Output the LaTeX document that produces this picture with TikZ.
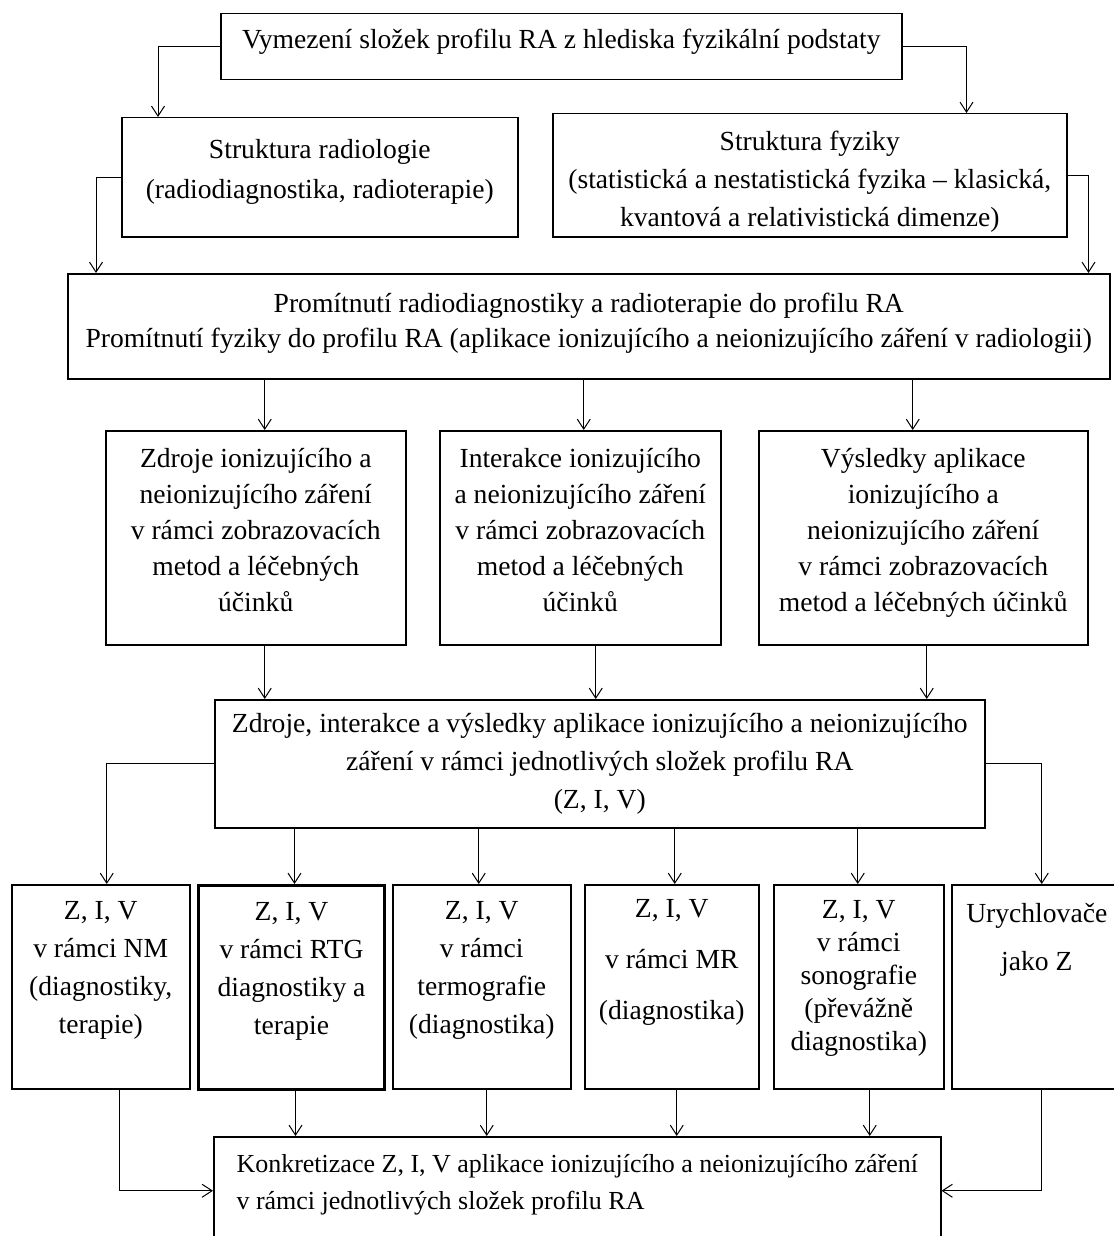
\documentclass[tikz,border=0pt]{standalone}
\usepackage{fontspec}
\setmainfont{Liberation Serif}
\usetikzlibrary{arrows.meta}

% extra depth below the last line, pushes the text up in its box
\newcommand{\padb}[1]{\rule[-#1]{0pt}{#1}}

\begin{document}
\begin{tikzpicture}[
  x=0.5pt, y=-0.5pt,
  block/.style={draw, line width=0.75pt, anchor=north west, align=center,
    inner sep=2pt, font=\fontsize{13.8}{19}\selectfont},
  bold block/.style={block, line width=1.5pt},
  leading/.style={font=\fontsize{13.8}{#1}\selectfont},
  link/.style={line width=0.5pt, -{Straight Barb[length=5pt,width=6.5pt]}}
]
  \useasboundingbox (0,0) rectangle (1113,1236);

  % Top: delimitation of the RA profile
  \node[block, minimum width=340.5pt, minimum height=33pt] (vymezeni) at (220,13)
    {Vymezení složek profilu RA z hlediska fyzikální podstaty\padb{8pt}};

  % Two structures
  \node[block, leading=20pt, minimum width=198pt, minimum height=59.5pt] (radiologie) at (121,117)
    {Struktura radiologie\\(radiodiagnostika, radioterapie)\padb{8.5pt}};
  \node[block, minimum width=257pt, minimum height=61.5pt] (fyzika) at (552,113)
    {\rule{0pt}{16pt}Struktura fyziky\\(statistická a nestatistická fyzika – klasická,\\kvantová a relativistická dimenze)};

  % Projection into the profile
  \node[block, leading=17.5pt, minimum width=521pt, minimum height=52.5pt] (promitnuti) at (67,273)
    {Promítnutí radiodiagnostiky a radioterapie do profilu RA\\Promítnutí fyziky do profilu RA (aplikace ionizujícího a neionizujícího záření v radiologii)\padb{6pt}};

  % Sources, interactions, results
  \node[block, leading=18pt, minimum width=150pt, minimum height=107pt] (zdroje) at (105,430)
    {Zdroje ionizujícího a\\neionizujícího záření\\v rámci zobrazovacích\\metod a léčebných\\účinků\padb{7.5pt}};
  \node[block, leading=18pt, minimum width=140.5pt, minimum height=107pt] (interakce) at (439,430)
    {Interakce ionizujícího\\a neionizujícího záření\\v rámci zobrazovacích\\metod a léčebných\\účinků\padb{7.5pt}};
  \node[block, leading=18pt, minimum width=164.5pt, minimum height=107pt] (vysledky) at (758,430)
    {Výsledky aplikace\\ionizujícího a\\neionizujícího záření\\v rámci zobrazovacích\\metod a léčebných účinků\padb{7.5pt}};

  % Z, I, V summary
  \node[block, minimum width=385pt, minimum height=64pt] (zik) at (214,699)
    {Zdroje, interakce a výsledky aplikace ionizujícího a neionizujícího\\záření v rámci jednotlivých složek profilu RA\\(Z, I, V)};

  % Row of the single components
  \node[block, minimum width=89pt, minimum height=102pt] (nm) at (11,884)
    {Z, I, V\\v rámci NM\\(diagnostiky,\\terapie)\padb{19.5pt}};
  \node[bold block, minimum width=93pt, minimum height=102pt] (rtg) at (197,884)
    {Z, I, V\\v rámci RTG\\diagnostiky a\\terapie\padb{19.5pt}};
  \node[block, minimum width=89pt, minimum height=102pt] (termo) at (392,884)
    {Z, I, V\\v rámci\\termografie\\(diagnostika)\padb{19.5pt}};
  \node[block, leading=25.5pt, minimum width=87pt, minimum height=102pt] (mr) at (584,884)
    {Z, I, V\\v rámci MR\\(diagnostika)\padb{27pt}};
  \node[block, leading=16.5pt, minimum width=85pt, minimum height=102pt] (sono) at (773,884)
    {Z, I, V\\v rámci\\sonografie\\(převážně\\diagnostika)\padb{11pt}};
  \node[block, leading=24pt, minimum width=85pt, minimum height=102pt] (urychl) at (951,884)
    {Urychlovače\\jako Z\padb{50pt}};

  % Bottom: concretisation (runs off the lower edge)
  \node[block, align=left, font=\fontsize{13}{18.5}\selectfont, minimum width=363.5pt, minimum height=54pt] (konkretizace) at (213,1136)
    {Konkretizace Z, I, V aplikace ionizujícího a neionizujícího záření\\v rámci jednotlivých složek profilu RA\padb{8.5pt}};

  % Connectors, top part
  \draw[link] (vymezeni.west) -| ([xshift=18.5pt]radiologie.north west);
  \draw[link] (vymezeni.east) -| ([xshift=-50.5pt]fyzika.north east);
  \draw[link] (radiologie.west) -| ([xshift=14.5pt]promitnuti.north west);
  \draw[link] (fyzika.east) -| ([xshift=-11pt]promitnuti.north east);

  % into and out of the three middle boxes
  \draw[link] ([xshift=4.5pt]zdroje.north |- promitnuti.south) -- ([xshift=4.5pt]zdroje.north);
  \draw[link] ([xshift=1.75pt]interakce.north |- promitnuti.south) -- ([xshift=1.75pt]interakce.north);
  \draw[link] ([xshift=-5.25pt]vysledky.north |- promitnuti.south) -- ([xshift=-5.25pt]vysledky.north);
  \draw[link] ([xshift=4.5pt]zdroje.south) -- ([xshift=4.5pt]zdroje.south |- zik.north);
  \draw[link] ([xshift=7.75pt]interakce.south) -- ([xshift=7.75pt]interakce.south |- zik.north);
  \draw[link] ([xshift=1.75pt]vysledky.south) -- ([xshift=1.75pt]vysledky.south |- zik.north);

  % Z, I, V to the row
  \draw[link] (zik.west) -| ([xshift=3pt]nm.north);
  \draw[link] ([xshift=1.5pt]rtg.north |- zik.south) -- ([xshift=1.5pt]rtg.north);
  \draw[link] ([xshift=-1.5pt]termo.north |- zik.south) -- ([xshift=-1.5pt]termo.north);
  \draw[link] ([xshift=1.5pt]mr.north |- zik.south) -- ([xshift=1.5pt]mr.north);
  \draw[link] ([xshift=-0.5pt]sono.north |- zik.south) -- ([xshift=-0.5pt]sono.north);
  \draw[link] (zik.east) -| ([xshift=2.5pt]urychl.north);

  % Row to the concretisation
  \draw[link] ([xshift=9.5pt]nm.south) |- (konkretizace.west);
  \draw[link] ([xshift=2pt]rtg.south) -- ([xshift=2pt]rtg.south |- konkretizace.north);
  \draw[link] ([xshift=2.5pt]termo.south) -- ([xshift=2.5pt]termo.south |- konkretizace.north);
  \draw[link] ([xshift=2.5pt]mr.south) -- ([xshift=2.5pt]mr.south |- konkretizace.north);
  \draw[link] ([xshift=5.5pt]sono.south) -- ([xshift=5.5pt]sono.south |- konkretizace.north);
  \draw[link] ([xshift=2.5pt]urychl.south) |- (konkretizace.east);

\end{tikzpicture}
\end{document}
